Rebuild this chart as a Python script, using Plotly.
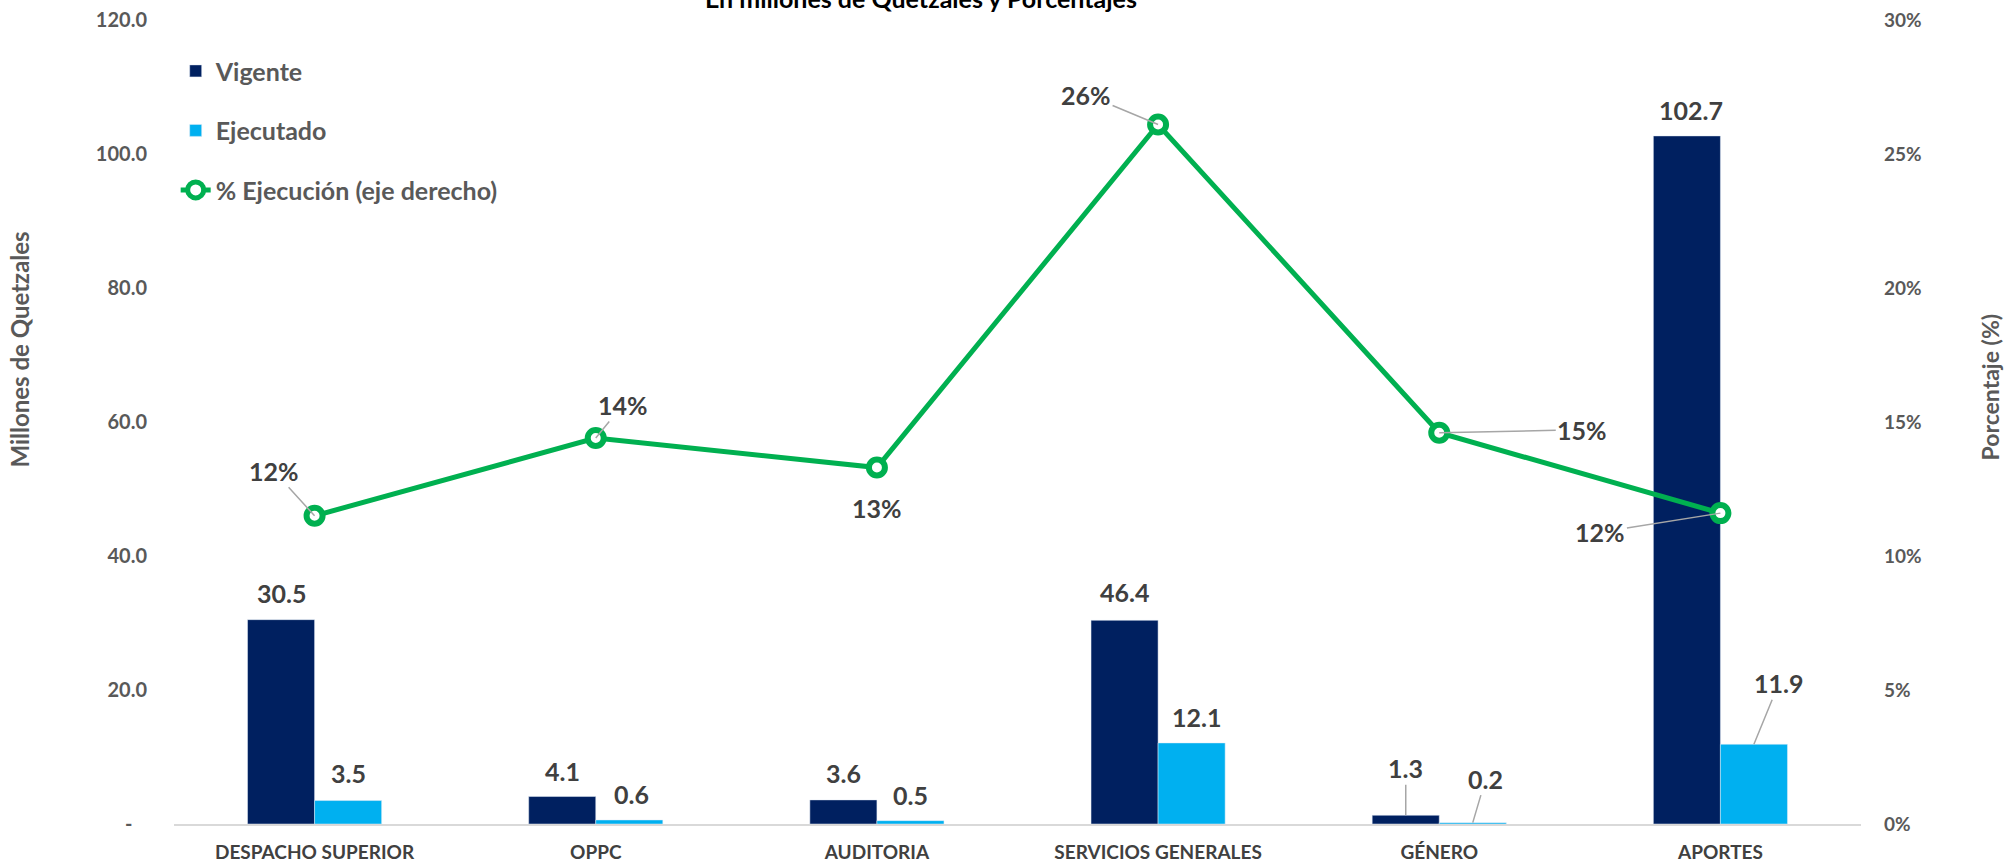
import plotly.graph_objects as go

# ---------------- data ----------------
categorias = ["DESPACHO SUPERIOR", "OPPC", "AUDITORIA", "SERVICIOS GENERALES", "GÉNERO", "APORTES"]
vigente = [30.5, 4.1, 3.6, 30.4, 1.3, 102.7]          # bar heights as drawn
vigente_etiquetas = ["30.5", "4.1", "3.6", "46.4", "1.3", "102.7"]
ejecutado = [3.5, 0.6, 0.5, 12.1, 0.2, 11.9]
porcentaje = [0.115, 0.144, 0.133, 0.261, 0.146, 0.116]

ticks_izq = [0, 20, 40, 60, 80, 100, 120]
ticks_izq_texto = ["-\u00a0\u00a0\u00a0", "20.0", "40.0", "60.0", "80.0", "100.0", "120.0"]
ticks_der = [0, 0.05, 0.10, 0.15, 0.20, 0.25, 0.30]
ticks_der_texto = ["0%", "5%", "10%", "15%", "20%", "25%", "30%"]

# ---------------- styles ----------------
FONT = "Lato, 'Open Sans', sans-serif"
C_VIG = "#002060"
C_EJE = "#00B0F0"
C_LIN = "#00B050"
C_LAB = "#404040"
C_AX = "#595959"
C_LEAD = "#A6A6A6"

fig = go.Figure()
fig.add_trace(go.Bar(x=categorias, y=vigente, name="Vigente", marker_color=C_VIG,
                     legendgroup="a", yaxis="y"))
fig.add_trace(go.Bar(x=categorias, y=ejecutado, name="Ejecutado", marker_color=C_EJE,
                     legendgroup="b", yaxis="y"))
fig.add_trace(go.Scatter(x=categorias, y=porcentaje, name="% Ejecución (eje derecho)",
                         mode="lines+markers", yaxis="y2", legendgroup="c",
                         line=dict(color=C_LIN, width=5),
                         marker=dict(symbol="circle", size=16, color="white",
                                     line=dict(color=C_LIN, width=6))))

lab_font = dict(family=FONT, size=25, color=C_LAB, weight=700)
ann = []

# Vigente labels: (dx, dy, leader)
vig_off = [(0, -27, False), (0, -26, False), (0, -27, False), (0, -28, False), (0, -47, True), (4, -26, False)]
for c, v, t, (dx, dy, lead) in zip(categorias, vigente, vigente_etiquetas, vig_off):
    if lead:
        ann.append(dict(x=c, y=v, xref="x", yref="y", xshift=-33.5, text=t, showarrow=True,
                        ax=dx, ay=dy, arrowhead=0, arrowwidth=1.5, arrowcolor=C_LEAD,
                        font=lab_font))
    else:
        ann.append(dict(x=c, y=v, xref="x", yref="y", xshift=-33.5 + dx, yshift=-dy, text=t,
                        showarrow=False, font=lab_font))

eje_off = [(0, -28, False), (2, -26, False), (0, -26, False), (5, -26, False), (13, -44, True), (25, -61, True)]
for c, v, (dx, dy, lead) in zip(categorias, ejecutado, eje_off):
    t = f"{v:.1f}"
    if lead:
        ann.append(dict(x=c, y=v, xref="x", yref="y", xshift=33.5, text=t, showarrow=True,
                        ax=dx, ay=dy, arrowhead=0, arrowwidth=1.5, arrowcolor=C_LEAD,
                        font=lab_font))
    else:
        ann.append(dict(x=c, y=v, xref="x", yref="y", xshift=33.5 + dx, yshift=-dy, text=t,
                        showarrow=False, font=lab_font))

pct_off = [(-41, -45, True), (27, -33, True), (0, 40, False), (-72, -30, True), (143, -3, True), (-120, 19, True)]
for c, v, (dx, dy, lead) in zip(categorias, porcentaje, pct_off):
    t = f"{round(v * 100)}%"
    if lead:
        ann.append(dict(x=c, y=v, xref="x", yref="y2", text=t, showarrow=True,
                        ax=dx, ay=dy, arrowhead=0, arrowwidth=1.5, arrowcolor=C_LEAD,
                        standoff=0, font=lab_font))
    else:
        ann.append(dict(x=c, y=v, xref="x", yref="y2", yshift=-dy, text=t,
                        showarrow=False, font=lab_font))

# titles
ann.append(dict(text="En millones de Quetzales y Porcentajes", xref="paper", yref="paper",
                x=0.443, y=1, yshift=22, xanchor="center", yanchor="middle", showarrow=False,
                font=dict(family=FONT, size=25, color="#000000", weight=700)))
ann.append(dict(text="Millones de Quetzales", xref="paper", yref="paper", x=-0.0913, y=0.59,
                xanchor="center", yanchor="middle", textangle=-90, showarrow=False,
                font=dict(family=FONT, size=24, color=C_AX, weight=700)))
ann.append(dict(text="Porcentaje (%)", xref="paper", yref="paper", x=1.0765, y=0.543,
                xanchor="center", yanchor="middle", textangle=-90, showarrow=False,
                font=dict(family=FONT, size=23, color=C_AX, weight=700)))

fig.update_layout(
    width=2008, height=866,
    margin=dict(l=174, r=147, t=20, b=42, autoexpand=False),
    paper_bgcolor="white", plot_bgcolor="white",
    barmode="group", bargap=0.523, bargroupgap=0,
    font=dict(family=FONT, color=C_AX),
    showlegend=True,
    legend=dict(x=0.001, y=0.965, xanchor="left", yanchor="top", traceorder="grouped",
                tracegroupgap=24, bgcolor="rgba(0,0,0,0)",
                font=dict(family=FONT, size=25, color=C_AX, weight=700)),
    xaxis=dict(showline=True, linecolor="#D9D9D9", linewidth=2, showgrid=False,
               ticks="", tickfont=dict(family=FONT, size=19, color=C_LAB, weight=700),
               ticklabelstandoff=10),
    yaxis=dict(range=[0, 120], tickvals=ticks_izq, ticktext=ticks_izq_texto, showgrid=False,
               zeroline=False, showline=False, ticks="",
               tickfont=dict(family=FONT, size=20, color=C_AX, weight=700),
               ticklabelstandoff=26),
    yaxis2=dict(range=[0, 0.30], tickvals=ticks_der, ticktext=ticks_der_texto, overlaying="y",
                side="right", showgrid=False, zeroline=False, showline=False, ticks="",
                tickfont=dict(family=FONT, size=19, color=C_AX, weight=700),
                ticklabelstandoff=22),
    annotations=ann,
)

fig.write_html("out.html", config={"displayModeBar": False})

# remove the default page margin so the figure fills the window exactly
with open("out.html", "r", encoding="utf-8") as f:
    html = f.read()
html = html.replace("<head>", "<head><style>html,body{margin:0;padding:0;overflow:hidden;}</style>", 1)
with open("out.html", "w", encoding="utf-8") as f:
    f.write(html)
